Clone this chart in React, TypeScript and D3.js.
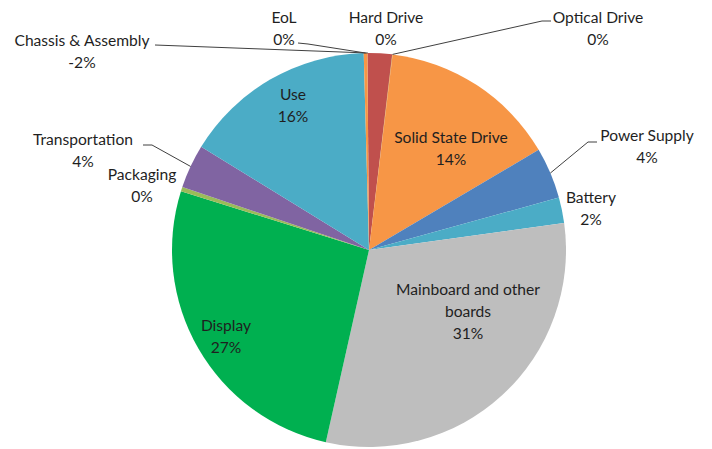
import React from "react";
import * as d3 from "d3";

const categories = [
  "Chassis & Assembly",
  "Hard Drive",
  "Optical Drive",
  "Solid State Drive",
  "Power Supply",
  "Battery",
  "Mainboard and other boards",
  "Display",
  "Packaging",
  "Transportation",
  "Use",
  "EoL",
];
// share of impact (percent); negative value drawn by magnitude
const values = [-2.0, 0.02, 0.02, 14.6, 4.2, 2.1, 30.7, 26.3, 0.35, 3.6, 15.8, 0.3];
const pctLabels = ["-2%", "0%", "0%", "14%", "4%", "2%", "31%", "27%", "0%", "4%", "16%", "0%"];
const colors = [
  "#C0504D",
  "#8B4513",
  "#F0A030",
  "#F79646",
  "#4F81BD",
  "#4BACC6",
  "#BEBEBE",
  "#00B050",
  "#9BBB59",
  "#8064A2",
  "#4BACC6",
  "#F79646",
];

// label layout (text centre, leader polyline start, which arc point the leader hits)
type Lay = { x: number; y: number; lines: string[]; leader?: [number, number][]; hit?: "mid" | "start" };
const layout: Lay[] = [
  { x: 82, y: 40, lines: ["Chassis & Assembly"], leader: [[155, 45]], hit: "start" },
  { x: 386, y: 17, lines: ["Hard Drive"] },
  { x: 598, y: 17, lines: ["Optical Drive"], leader: [[551, 21], [542, 21]], hit: "mid" },
  { x: 451, y: 137, lines: ["Solid State Drive"] },
  { x: 647, y: 135, lines: ["Power Supply"], leader: [[597, 142], [588, 142]], hit: "mid" },
  { x: 591, y: 197, lines: ["Battery"] },
  { x: 468, y: 289, lines: ["Mainboard and other", "boards"] },
  { x: 226, y: 325, lines: ["Display"] },
  { x: 142, y: 174, lines: ["Packaging"] },
  { x: 83, y: 139, lines: ["Transportation"], leader: [[143, 145], [152, 145]], hit: "mid" },
  { x: 293, y: 94, lines: ["Use"] },
  { x: 284, y: 17, lines: ["EoL"], leader: [[298, 43], [308, 44]], hit: "mid" },
];

const W = 712;
const H = 449;
const cx = 369;
const cy = 250;
const R = 197;
const LH = 22;

export default function App() {
  const pie = d3
    .pie<number>()
    .sort(null)
    .value((d) => Math.abs(d))
    .startAngle(-0.008)
    .endAngle(2 * Math.PI - 0.008);
  const arcs = pie(values);
  const arcGen = d3.arc<d3.PieArcDatum<number>>().innerRadius(0).outerRadius(R);

  const pt = (a: number): [number, number] => [cx + R * Math.sin(a), cy - R * Math.cos(a)];

  return (
    <div style={{ position: "absolute", left: 0, top: 0 }}>
      <svg width={W} height={H} style={{ display: "block" }}>
        <rect width={W} height={H} fill="#fff" />
        <g transform={`translate(${cx},${cy})`}>
          {arcs.map((a, i) => (
            <path key={i} d={arcGen(a) || ""} fill={colors[i]} />
          ))}
        </g>
        {layout.map((l, i) => {
          if (!l.leader) return null;
          const a = arcs[i];
          const ang = l.hit === "start" ? a.startAngle + 0.002 : (a.startAngle + a.endAngle) / 2;
          const end = pt(ang);
          const pts = [...l.leader, end];
          return (
            <polyline
              key={"l" + i}
              points={pts.map((p) => p.join(",")).join(" ")}
              fill="none"
              stroke="#404040"
              strokeWidth={1}
            />
          );
        })}
        {layout.map((l, i) => {
          const lines = [...l.lines, pctLabels[i]];
          return (
            <text
              key={"t" + i}
              x={l.x}
              y={l.y}
              textAnchor="middle"
              dominantBaseline="central"
              fontFamily="Lato, 'Open Sans', sans-serif"
              fontSize={15.6}
              fill="#1f1f1f"
            >
              {lines.map((s, k) => (
                <tspan key={k} x={l.x} y={l.y + k * LH}>
                  {s}
                </tspan>
              ))}
            </text>
          );
        })}
      </svg>
    </div>
  );
}
